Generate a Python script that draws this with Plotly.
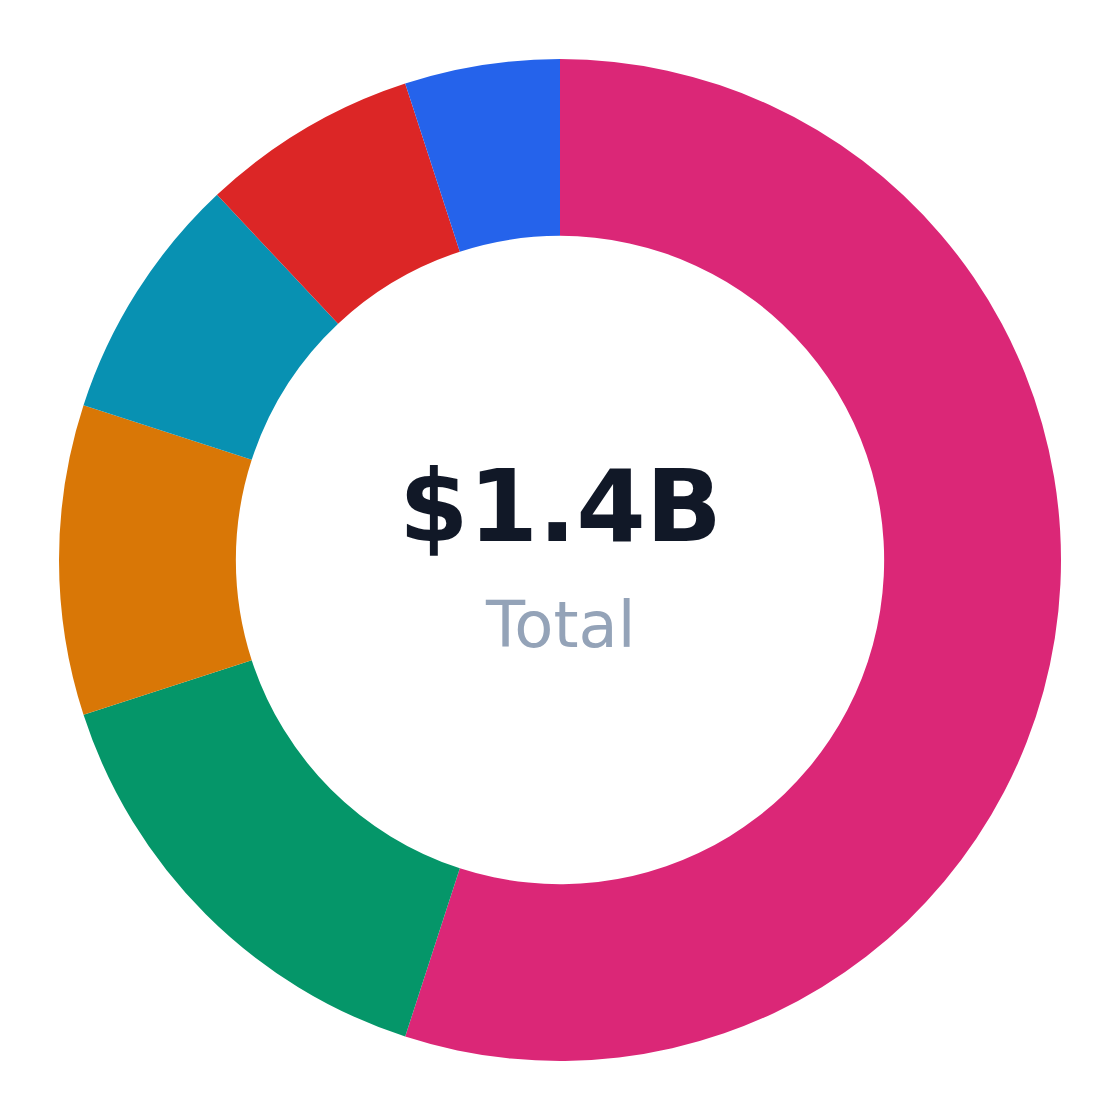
import plotly.graph_objects as go

# segment values in $M (total 1.4B)
labels = ["Segment A", "Segment B", "Segment C", "Segment D", "Segment E", "Segment F"]
values = [770, 210, 140, 112, 98, 70]
colors = ["#DB2777", "#059669", "#D97706", "#0891B2", "#DC2626", "#2563EB"]

total_label = "$1.4B"
sub_label = "Total"

fig = go.Figure(data=[go.Pie(
    labels=labels,
    values=values,
    hole=0.647,
    sort=False,
    direction='clockwise',
    rotation=0,
    textinfo='none',
    hoverinfo='label+value+percent',
    marker=dict(colors=colors, line=dict(width=0)),
)])

fig.add_annotation(text=f"<b>{total_label}</b>", x=0.5, y=0.553,
                   xref='paper', yref='paper', showarrow=False,
                   font=dict(family="DejaVu Sans", size=100, color="#111827"))
fig.add_annotation(text=sub_label, x=0.5, y=0.435,
                   xref='paper', yref='paper', showarrow=False,
                   font=dict(family="DejaVu Sans", size=64, color="#94A3B8"))

# page body adds an 8px offset, so margins are skewed to keep the ring centred
fig.update_layout(
    width=1120, height=1120,
    margin=dict(l=51, r=67, t=51, b=67),
    showlegend=False,
    paper_bgcolor='white',
    plot_bgcolor='white',
)

fig.write_html("out.html")
